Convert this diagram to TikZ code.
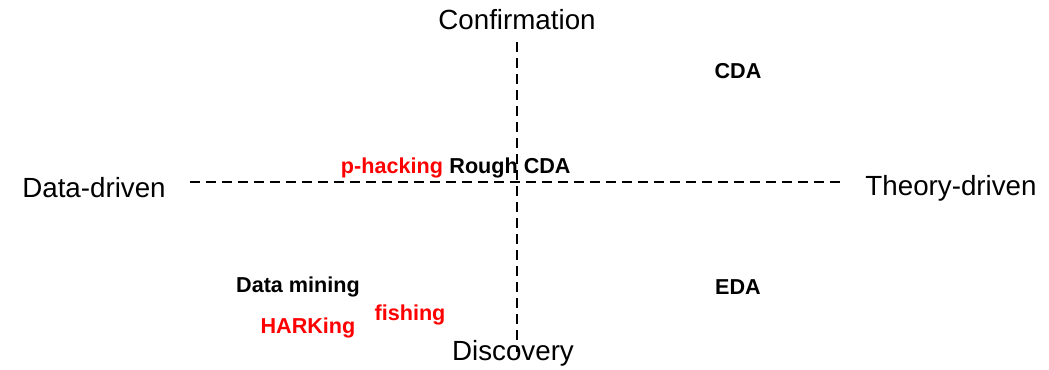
\documentclass[tikz,border=0pt]{standalone}
\usepackage{fontspec}
\setmainfont{Liberation Sans}
\begin{document}
\begin{tikzpicture}[x=0.75pt,y=-0.75pt,
  axis/.style={draw=black,line width=1.5pt,dash pattern=on 7.5pt off 4.5pt},
  big/.style={font=\fontsize{20.8}{24}\selectfont,text=black,inner sep=0pt},
  lab/.style={font=\fontsize{16.2}{19}\selectfont\bfseries,text=black,inner sep=0pt},
  redlab/.style={lab,text=red}]
\useasboundingbox (0,0) rectangle (1049,370);
\node[big] (conf) at (517,20) {Confirmation};
\node[big] (disc) at (513,353) {Discovery};
\node[big] (data) at (94,188) {Data-driven};
\node[big] (theo) at (951,188) {Theory-driven};
\coordinate (vt) at (517,42);
\coordinate (vb) at (517,352);
\coordinate (hl) at (190,182);
\coordinate (hr) at (840,182);
\draw[axis] (vt) -- (vb);
\draw[axis] (hl) -- (hr);
\node[lab] (cda) at (738,71) {CDA};
\node[redlab] (ph) at (392,168) {p-hacking};
\node[lab] (rcda) at (510,168) {Rough CDA};
\node[lab] (eda) at (738,287) {EDA};
\node[lab] (dm) at (298,287) {Data mining};
\node[redlab] (fish) at (410,315) {fishing};
\node[redlab] (hark) at (308,328) {HARKing};
\end{tikzpicture}
\end{document}
